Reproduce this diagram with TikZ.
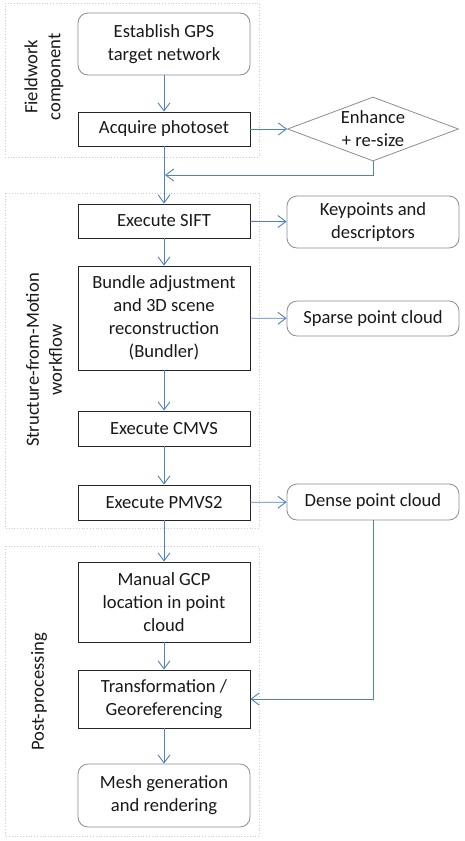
\documentclass[tikz,border=0pt]{standalone}
\usepackage{fontspec}
\setmainfont{Carlito}
\usetikzlibrary{shapes.geometric,arrows.meta}
\definecolor{flowblue}{RGB}{79,129,189}
\begin{document}
\begin{tikzpicture}[
        x = 1pt, y = -1pt,
        >= {Straight Barb[length=8pt,width=12pt]},
        every node/.style = {font=\fontsize{18.6}{23}\selectfont, align=center, inner sep=0pt, text=black!90},
        proc/.style = {draw=black!85, line width=0.9pt, minimum width=172pt},
        term/.style = {draw=black!45, line width=0.8pt, rounded corners=10pt, minimum width=172pt},
        dec/.style = {draw=black!45, line width=0.8pt, diamond, aspect=2.67, minimum width=171pt, minimum height=64pt, inner sep=-8pt},
        frame/.style = {draw=black!20, dotted, line width=0.8pt},
        flow/.style = {->, draw=flowblue, line width=0.9pt}
    ]
        \useasboundingbox (0,0) rectangle (465,841);
        \draw [frame] (5,3) rectangle (259,157);
        \draw [frame] (5,193) rectangle (259,528);
        \draw [frame] (5,546) rectangle (259,836);
        \node [rotate=90] (lfield) at (44,77) {Fieldwork\\component};
        \node [rotate=90] (lsfm) at (44,360) {Structure-from-Motion\\workflow};
        \node [rotate=90] (lpost) at (39,692) {Post-processing};
        \node [term, minimum height=62pt] (gps) at (164,44) {Establish GPS\\target network};
        \node [proc, minimum height=34pt] (acq) at (164,129) {Acquire photoset};
        \node [dec] (enh) at (373,129) {Enhance\\+ re-size};
        \coordinate (merge) at (165,175);
        \node [proc, minimum height=34pt] (sift) at (164,221) {Execute SIFT};
        \node [term, minimum height=52pt] (keyp) at (373,222) {Keypoints and\\descriptors};
        \node [proc, minimum height=104pt] (bund) at (164,318) {Bundle adjustment\\and 3D scene\\reconstruction\\(Bundler)};
        \node [term, minimum height=35pt] (sparse) at (373,318.5) {Sparse point cloud};
        \node [proc, minimum height=35pt] (cmvs) at (164,428.5) {Execute CMVS};
        \node [proc, minimum height=35pt] (pmvs) at (164,502.5) {Execute PMVS2};
        \node [term, minimum height=36pt] (dense) at (373,502) {Dense point cloud};
        \node [proc, minimum height=80pt] (gcp) at (164,602) {Manual GCP\\location in point\\cloud};
        \node [proc, minimum height=58pt] (trans) at (164,699) {Transformation /\\Georeferencing};
        \node [term, minimum height=63pt] (mesh) at (164,795.5) {Mesh generation\\and rendering};
        \draw [flow] (gps) -- (acq);
        \draw [flow] (acq) -- (enh);
        \draw [flow] (acq) -- (sift);
        \draw [flow] (enh.south) |- (merge);
        \draw [flow] (sift) -- (keyp);
        \draw [flow] (sift) -- (bund);
        \draw [flow] (bund) -- (sparse);
        \draw [flow] (bund) -- (cmvs);
        \draw [flow] (cmvs) -- (pmvs);
        \draw [flow] (pmvs) -- (dense);
        \draw [flow] (pmvs) -- (gcp);
        \draw [flow] (gcp) -- (trans);
        \draw [flow] (dense.south) |- (trans.east);
        \draw [flow] (trans) -- (mesh);
\end{tikzpicture}
\end{document}
